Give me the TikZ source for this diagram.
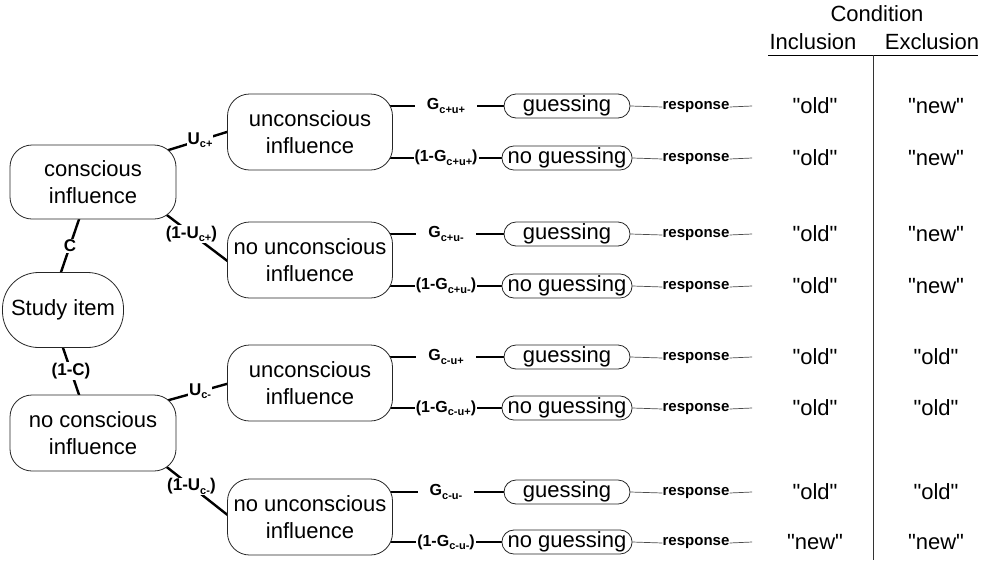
\documentclass[tikz,border=0pt]{standalone}
\usepackage{fontspec}
\setmainfont{Liberation Sans}[Ligatures=TeXOff]
\usetikzlibrary{shapes.misc,calc}
\pgfdeclarelayer{bg}
\pgfsetlayers{bg,main}
\newcommand{\lsub}[1]{\raisebox{-3.5pt}{\fontsize{11}{11}\selectfont\bfseries #1}}
\begin{document}
\begin{tikzpicture}[x=1pt,y=-1pt,
  box/.style={draw=black!85, line width=0.8pt, rounded corners=22pt, fill=white, align=center, font=\fontsize{22}{27}\selectfont, inner sep=0pt},
  gbox/.style={draw=black!85, line width=0.8pt, rounded rectangle, fill=white, minimum width=126pt, minimum height=24pt, inner sep=0pt, font=\fontsize{22}{22}\selectfont},
  heavy/.style={line width=2.4pt},
  thinln/.style={line width=0.7pt, black!70},
  plab/.style={fill=white, inner sep=1pt, font=\fontsize{17}{17}\selectfont\bfseries},
  glab/.style={fill=white, inner ysep=1pt, inner xsep=12pt, font=\fontsize{16}{16}\selectfont\bfseries},
  nglab/.style={fill=white, inner ysep=1pt, inner xsep=1pt, font=\fontsize{16}{16}\selectfont\bfseries},
  resp/.style={font=\fontsize{15}{15}\selectfont\bfseries, inner sep=0pt},
  ans/.style={font=\fontsize{22}{22}\selectfont, inner sep=1pt},
]
\useasboundingbox (0,0) rectangle (984,560);

% header
\node[ans] (cond) at (877,14) {Condition};
\node[ans] (incl) at (813,42) {Inclusion};
\node[ans] (excl) at (932,42) {Exclusion};
\coordinate (ul1) at (768,55);
\coordinate (ul2) at (978,55);
\draw[line width=0.9pt] (ul1) -- (ul2);
\coordinate (vt) at (873,55);
\coordinate (vb) at (873,560);
\draw[line width=0.8pt, black!80] (vt) -- (vb);

% tree boxes
\node[box, minimum width=166pt, minimum height=74pt] (cons) at (93,182) {conscious\\influence};
\node[box, minimum width=121pt, minimum height=75pt, rounded corners=36pt] (study) at (63,310) {Study item};
\node[box, minimum width=166pt, minimum height=76pt] (ncons) at (93,433) {no conscious\\influence};
\node[box, minimum width=165pt, minimum height=76pt] (u1) at (310,132) {unconscious\\influence};
\node[box, minimum width=165pt, minimum height=76pt] (n1) at (310,260) {no unconscious\\influence};
\node[box, minimum width=165pt, minimum height=76pt] (u2) at (310,383) {unconscious\\influence};
\node[box, minimum width=165pt, minimum height=76pt] (n2) at (310,517) {no unconscious\\influence};

\begin{pgfonlayer}{bg}
\draw[heavy] ($(cons.north east)+(-13,7)$) -- node[plab, pos=0.55]{U\lsub{c+}} ($(u1.west)+(3,-1)$);
\draw[heavy] ($(cons.south east)+(-13,-7)$) -- node[plab, pos=0.42]{(1-U\lsub{c+})} ($(n1.west)+(3,3)$);
\draw[heavy] ($(cons.south)+(-13,-3)$) -- node[plab, pos=0.5]{C} ($(study.north)+(-3,3)$);
\draw[heavy] ($(study.south)+(-1,-3)$) -- node[plab, pos=0.5]{(1-C)} ($(ncons.north)+(-13,3)$);
\draw[heavy] ($(ncons.north east)+(-13,7)$) -- node[plab, pos=0.55]{U\lsub{c-}} ($(u2.west)+(3,0)$);
\draw[heavy] ($(ncons.south east)+(-13,-7)$) -- node[plab, pos=0.42]{(1-U\lsub{c-})} ($(n2.west)+(3,0)$);
\end{pgfonlayer}

\foreach \i/\y/\b/\t/\lab/\st/\inc/\exc in {
  1/106/u1/guessing/{G\lsub{c+u+}}/glab/old/new,
  2/158/u1/no guessing/{(1-G\lsub{c+u+})}/nglab/old/new,
  3/234/n1/guessing/{G\lsub{c+u-}}/glab/old/new,
  4/286/n1/no guessing/{(1-G\lsub{c+u-})}/nglab/old/new,
  5/357/u2/guessing/{G\lsub{c-u+}}/glab/old/old,
  6/408/u2/no guessing/{(1-G\lsub{c-u+})}/nglab/old/old,
  7/492/n2/guessing/{G\lsub{c-u-}}/glab/old/old,
  8/542/n2/no guessing/{(1-G\lsub{c-u-})}/nglab/new/new}{
  \node[gbox] (g\i) at (567,\y) {\t};
  \node[\st] (l\i) at (446,\y) {\lab};
  \node[resp] (r\i) at (696,\y+1) {response};
  \coordinate (e\i) at (752,\y);
  \node[ans] (inc\i) at (815,\y) {"\inc"};
  \node[ans] (exc\i) at (936,\y) {"\exc"};
  \begin{pgfonlayer}{bg}
    \draw[heavy] (\b.center |- g\i) -- (g\i.center);
  \end{pgfonlayer}
  \draw[thinln] (g\i.east) -- (r\i.west);
  \draw[thinln] (r\i.east) -- (e\i);
}
\end{tikzpicture}
\end{document}
